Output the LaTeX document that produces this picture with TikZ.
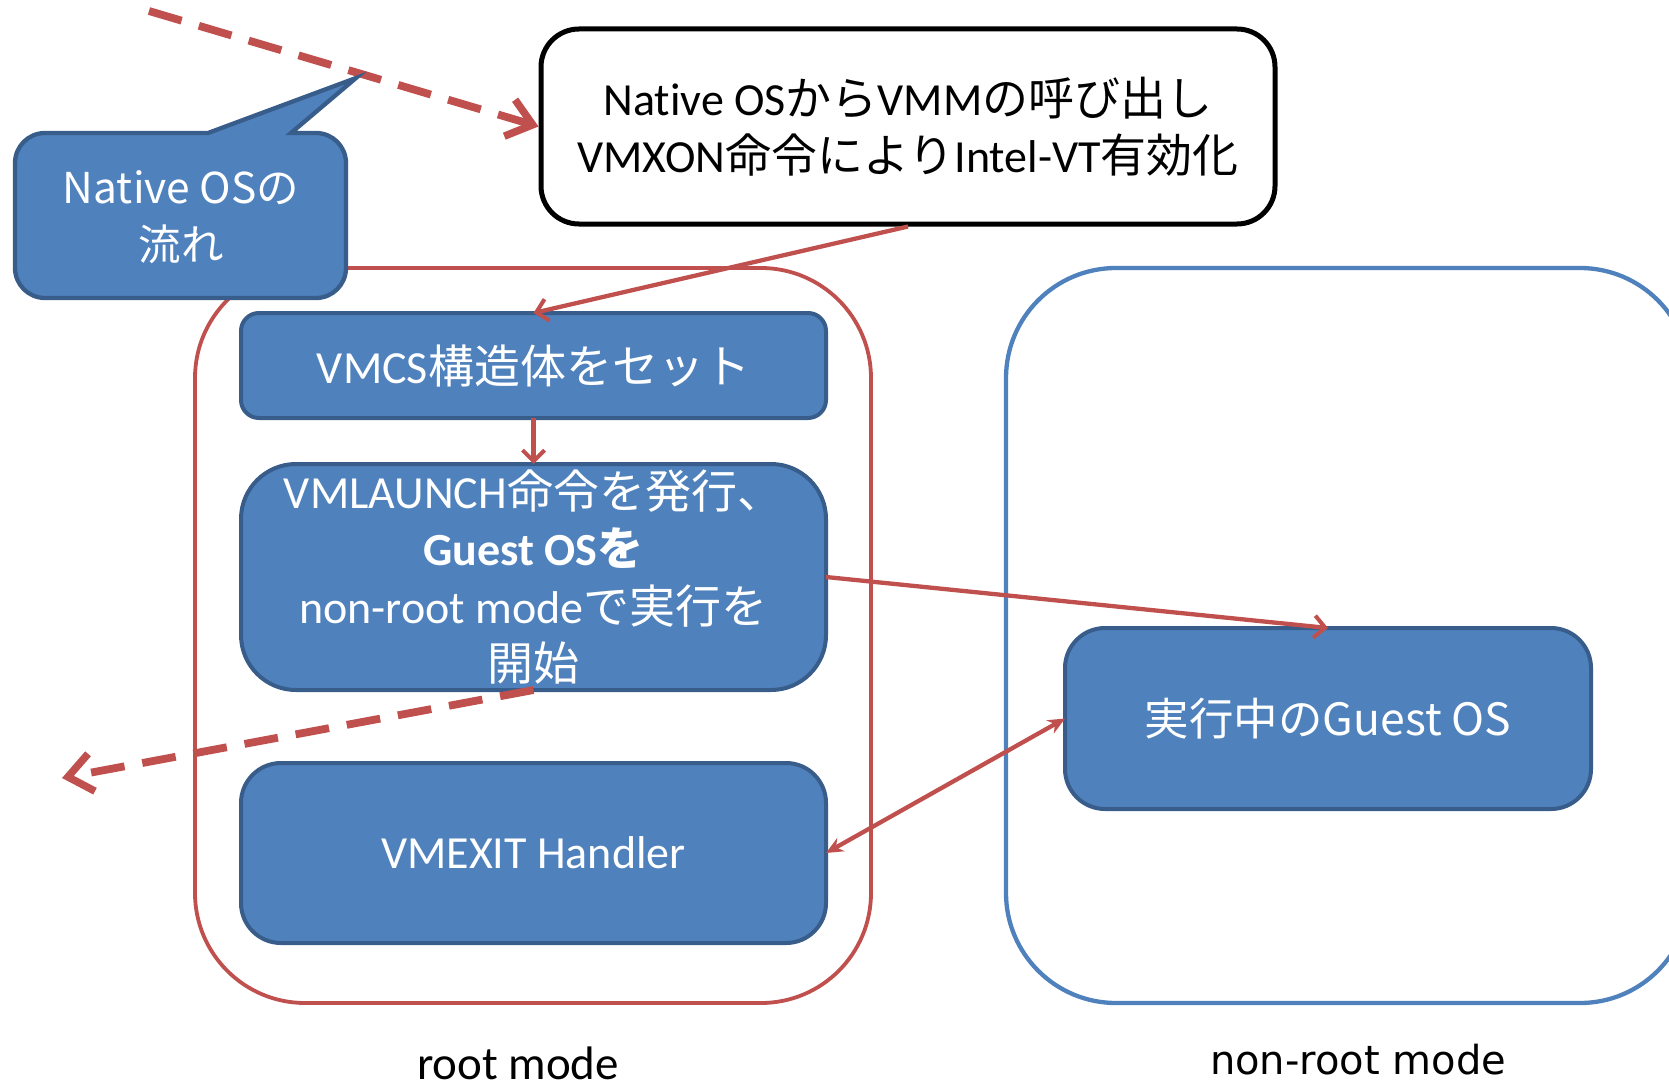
\documentclass[tikz,border=0pt]{standalone}
\usepackage{fontspec}
\setmainfont{Carlito}[Ligatures={NoCommon}]
\newfontfamily\jp{Noto Sans CJK JP}
\newfontfamily\dv{DejaVu Sans}
\usetikzlibrary{arrows.meta}
\definecolor{blu}{HTML}{4F81BD}
\definecolor{bdr}{HTML}{385D8A}
\definecolor{rd}{HTML}{C0504D}
\newcommand\J[1]{{\jp #1}}
\begin{document}
\begin{tikzpicture}[x=1pt,y=1pt,
  bluebox/.style={draw=bdr, line width=4pt, fill=blu, text=white, align=center, inner sep=0pt, outer sep=0pt},
  frame/.style={line width=3.8pt, inner sep=0pt, outer sep=0pt},
  conn/.style={draw=rd, line width=4.3pt, -{Straight Barb[length=11pt,width=22pt,line width=4pt]}},
  dconn/.style={draw=rd, line width=4.3pt, {Stealth[length=17pt,width=15pt]}-{Stealth[length=17pt,width=15pt]}},
  dashconn/.style={draw=rd, line width=7.8pt, dash pattern=on 34pt off 18pt, -{Straight Barb[length=24pt,width=38pt,line width=7.5pt]}},
  big/.style={font=\fontsize{46}{57.5}\selectfont},
]
\useasboundingbox (0,0) rectangle (1669,-1089);

% containers
\node[frame, draw=rd, rounded corners=110pt, minimum width=676pt, minimum height=735pt] (root) at (533,-635.5) {};
\node[frame, draw=blu, line width=4.3pt, rounded corners=110pt, minimum width=684pt, minimum height=735pt] (nonroot) at (1348,-635.5) {};

% incoming dashed arrow
\coordinate (start) at (149,-11);
\node[draw=black, line width=5pt, fill=white, rounded corners=38pt, minimum width=734pt, minimum height=195pt, align=center, inner sep=0pt, big] (native) at (908,-126.5)
  {Native OS\J{から}VMM\J{の呼び出し}\\VMXON\J{命令により}Intel-VT\J{有効化}};
\draw[dashconn] (start) -- (native.west);

% callout
\draw[bluebox, line width=4.3pt] (208,-133) -- (356,-78) -- (291,-133) -- (316,-133)
  arc[start angle=90,end angle=0,radius=30] -- (346,-268)
  arc[start angle=0,end angle=-90,radius=30] -- (45,-298)
  arc[start angle=270,end angle=180,radius=30] -- (15,-163)
  arc[start angle=180,end angle=90,radius=30] -- cycle;
\node[text=white, align=center, inner sep=0pt, font=\jp\fontsize{42.5}{57}\selectfont] (callout) at (181,-217) {Native OSの\\流れ};

% boxes in root mode
\node[bluebox, rounded corners=18pt, minimum width=585pt, minimum height=105pt, big] (vmcs) at (533.5,-365.5) {VMCS\J{構造体をセット}};
\node[bluebox, rounded corners=55pt, minimum width=585pt, minimum height=226pt, big] (launch) at (533.5,-577)
  {VMLAUNCH\J{命令を発行、}\\\textbf{Guest OS}\J{\bfseries を}\\non-root mode\J{で実行を}\\\J{開始}};
\node[bluebox, rounded corners=40pt, minimum width=585pt, minimum height=180pt, big] (vmexit) at (533.5,-853) {VMEXIT Handler};

% box in non-root mode
\node[bluebox, rounded corners=40pt, minimum width=526pt, minimum height=181pt, font=\jp\fontsize{44.5}{56}\selectfont] (guest) at (1328,-718.5) {実行中のGuest OS};

% labels
\node[inner sep=0pt, anchor=base, font=\fontsize{47}{50}\selectfont] (rootlbl) at (518,-1079) {root mode};
\node[inner sep=0pt, anchor=base, font=\dv\fontsize{40}{44}\selectfont] (nonrootlbl) at (1358,-1074) {non-root mode};

% connectors
\draw[conn] (native.south) -- (vmcs.north);
\draw[conn] (vmcs.south) -- (launch.north);
\draw[conn] (launch.east) -- (guest.north);
\draw[dconn] (vmexit.east) -- (guest.west);
\coordinate (exitpt) at (62,-778);
\draw[dashconn] (launch.south) -- (exitpt);
\end{tikzpicture}
\end{document}
